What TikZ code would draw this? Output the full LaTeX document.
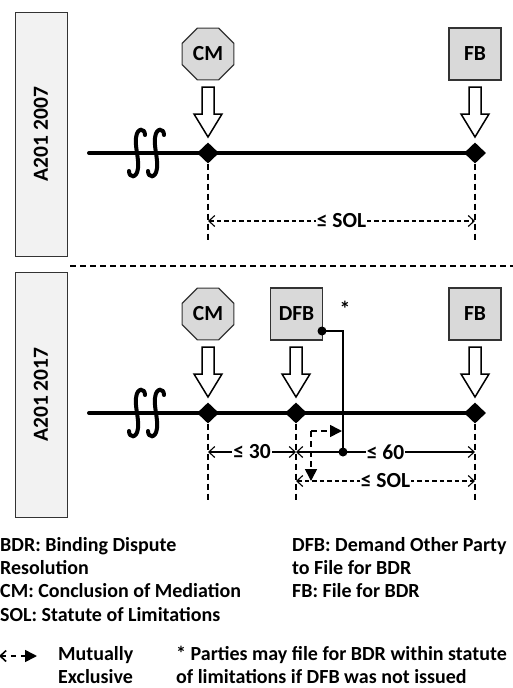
\documentclass[tikz,border=0pt]{standalone}
\usepackage{fontspec}
\setmainfont{Carlito}
\usetikzlibrary{shapes.geometric,arrows.meta}
\tikzset{
  txt/.style={font=\fontsize{20}{23.3}\selectfont\bfseries},
  bigtxt/.style={font=\fontsize{21.5}{24}\selectfont\bfseries},
  yearbox/.style={bigtxt, draw=black!80, line width=1pt, fill=black!5, rotate=90,
    minimum width=244pt, minimum height=52pt, inner sep=0},
  evbox/.style={bigtxt, draw=black!80, line width=1.2pt, fill=black!15, minimum size=52pt, inner sep=0},
  evoct/.style={bigtxt, regular polygon, regular polygon sides=8, draw=black!80, line width=1.2pt,
    fill=black!15, minimum size=56pt, inner sep=0},
  tick/.style={diamond, fill=black, minimum width=22pt, minimum height=21pt, inner sep=0},
  tline/.style={line width=4pt, line cap=round},
  vdash/.style={line width=2pt, dash pattern=on 6pt off 4pt},
  dimln/.style={line width=1.1pt, {Straight Barb[length=6pt,width=11pt]}-{Straight Barb[length=6pt,width=11pt]}},
  dimdash/.style={dimln, dash pattern=on 4.5pt off 3pt},
  dimlbl/.style={bigtxt, fill=white, inner sep=1pt},
  mx/.style={line width=1.6pt, dash pattern=on 6pt off 4pt, -{Triangle[length=12pt,width=12pt]}},
  dot/.style={circle, fill=black, minimum size=9pt, inner sep=0},
  legend/.style={txt, anchor=base west, inner sep=0},
  blockarrow/.pic={\draw[line width=1.5pt, fill=white, line join=miter]
     (-6,0) -- (6,0) -- (6,27) -- (14,27) -- (0,50) -- (-14,27) -- (-6,27) -- cycle;},
  brkpic/.pic={\draw[line width=4pt, line cap=round]
     (8,-18) .. controls (8,-25) and (0,-26) .. (-1,-15)
     .. controls (-2,-5) and (2,5) .. (1,15)
     .. controls (0,26) and (-8,25) .. (-8,18);},
}
\begin{document}
\begin{tikzpicture}[x=1pt,y=-1pt]
\useasboundingbox (0,0) rectangle (513,688);

% ---------- year boxes ----------
\node[yearbox] (y1) at (41,134) {A201 2007};
\node[yearbox, minimum width=245pt] (y2) at (41,394.5) {A201 2017};

% separator
\coordinate (sepL) at (70,266);
\coordinate (sepR) at (513,266);
\draw[line width=1.5pt, dash pattern=on 6pt off 4pt] (sepL) -- (sepR);

% ---------- top panel ----------
\coordinate (s1) at (89,153);
\coordinate (p1a) at (208,153);
\coordinate (p1b) at (475,153);
\draw[tline] (s1) -- (p1b);
\path (137,153) pic {brkpic};
\path (156,153) pic {brkpic};

\node[evoct] (cm1) at (208,54) {CM};
\node[evbox] (fb1) at (475,54) {FB};
\path (208,87) pic {blockarrow};
\path (475,87) pic {blockarrow};
\node[tick] (d1a) at (p1a) {};
\node[tick] (d1b) at (p1b) {};

\coordinate (v1a) at (208,242);
\coordinate (v1b) at (475,242);
\draw[vdash] (d1a.south) -- (v1a);
\draw[vdash] (d1b.south) -- (v1b);

\coordinate (sol1a) at (208,221);
\coordinate (sol1b) at (475,221);
\draw[dimdash] (sol1a) -- node[dimlbl] {≤ SOL} (sol1b);

% ---------- bottom panel ----------
\coordinate (s2) at (89,413);
\coordinate (p2a) at (208,413);
\coordinate (p2b) at (296,413);
\coordinate (p2c) at (475,413);
\draw[tline] (s2) -- (p2c);
\path (137,413) pic {brkpic};
\path (156,413) pic {brkpic};

\node[evoct] (cm2) at (208,314) {CM};
\node[evbox] (dfb) at (296.5,314) {DFB};
\node[evbox] (fb2) at (475,314) {FB};
\path (208,347) pic {blockarrow};
\path (296,347) pic {blockarrow};
\path (475,347) pic {blockarrow};
\node[tick] (d2a) at (p2a) {};
\node[tick] (d2b) at (p2b) {};
\node[tick] (d2c) at (p2c) {};

\coordinate (v2a) at (208,502);
\coordinate (v2b) at (296,502);
\coordinate (v2c) at (475,502);
\draw[vdash] (d2a.south) -- (v2a);
\draw[vdash] (d2b.south) -- (v2b);
\draw[vdash] (d2c.south) -- (v2c);

\coordinate (m30a) at (208,452);
\coordinate (m30b) at (296,452);
\coordinate (m60b) at (475,452);
\draw[dimln] (m30a) -- node[dimlbl] {≤ 30} (m30b);
\draw[dimln] (m30b) -- node[dimlbl, pos=0.5] {≤ 60} (m60b);

\coordinate (sol2a) at (296,481);
\coordinate (sol2b) at (475,481);
\draw[dimdash] (sol2a) -- node[dimlbl] {≤ SOL} (sol2b);

% DFB link
\node[dot] (dfbdot) at (322,331) {};
\node[dot] (jdot) at (343,452) {};
\draw[line width=1.8pt] (dfbdot.center) -| (jdot.center);
\node[bigtxt, inner sep=0] (star) at (345,309) {*};

% mutually exclusive arrows
\coordinate (mxc) at (311,431);
\coordinate (mxr) at (342,431);
\coordinate (mxd) at (311,481);
\draw[mx] (mxc) -- (mxr);
\draw[mx] (mxc) -- (mxd);

% ---------- legend ----------
\node[legend] (l1) at (0,551) {BDR: Binding Dispute};
\node[legend] (l2) at (0,574.3) {Resolution};
\node[legend] (l3) at (0,597.6) {CM: Conclusion of Mediation};
\node[legend] (l4) at (0,621) {SOL: Statute of Limitations};
\node[legend] (r1) at (292,551) {DFB: Demand Other Party};
\node[legend] (r2) at (292,574.3) {to File for BDR};
\node[legend] (r3) at (292,597.6) {FB: File for BDR};

\coordinate (lgA) at (-1,656);
\coordinate (lgB) at (37,656);
\draw[line width=1.6pt, dash pattern=on 5pt off 5pt,
  {Straight Barb[length=6pt,width=11pt]}-{Triangle[length=12pt,width=12pt]}] (lgA) -- (lgB);
\node[legend] (me1) at (58,660) {Mutually};
\node[legend] (me2) at (58,683) {Exclusive};
\node[legend] (n1) at (176,660) {* Parties may file for BDR within statute};
\node[legend] (n2) at (176,683) {of limitations if DFB was not issued};
\end{tikzpicture}
\end{document}
